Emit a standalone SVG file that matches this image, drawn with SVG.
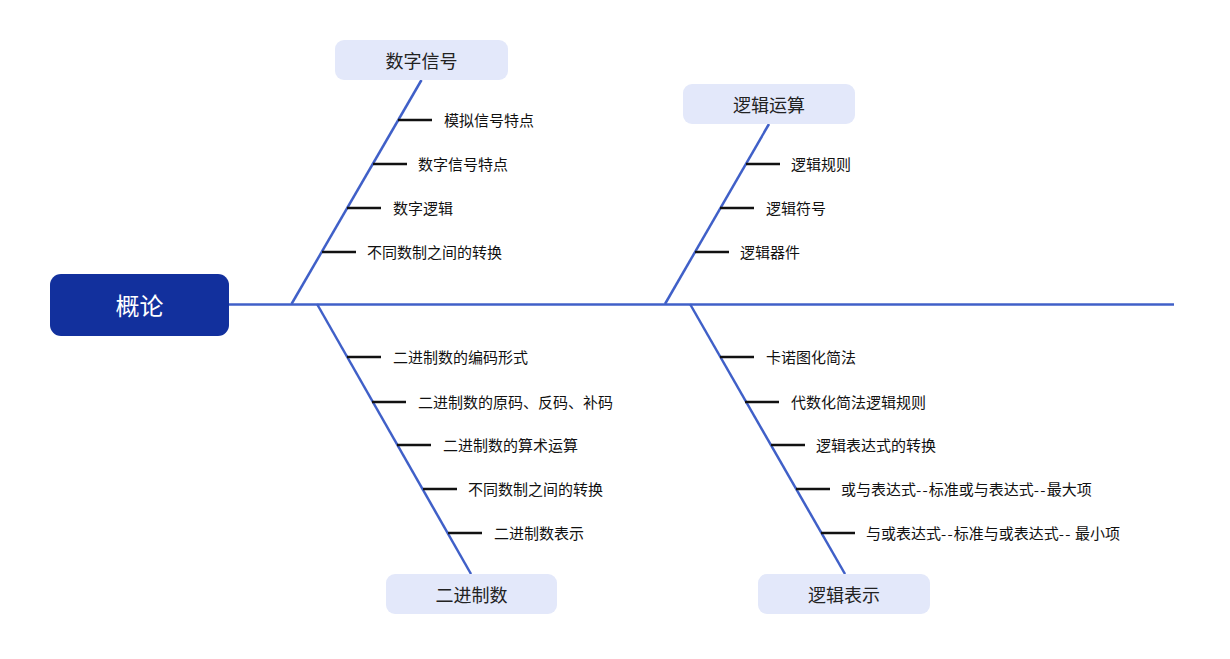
<svg xmlns="http://www.w3.org/2000/svg" width="1230" height="659" viewBox="0 0 1230 659">
<style>
text{font-family:"Noto Sans CJK SC","Noto Sans",sans-serif;}
.bone{stroke:#4060c8;stroke-width:2.5;fill:none;}
.sub{stroke:#111;stroke-width:2.5;fill:none;}
.cat{fill:#e3e8fa;}
.ct{font-size:18px;fill:#222;text-anchor:middle;dominant-baseline:central;}
.st{font-size:15px;fill:#111;dominant-baseline:central;}
.rt{font-size:24px;fill:#fff;text-anchor:middle;dominant-baseline:central;}
.hy{letter-spacing:1.2px;}
</style>
<rect width="1230" height="659" fill="#fff"/>
<g id="connectors">
<line class="bone" x1="229" y1="304.5" x2="1174" y2="304.5"/>
<line class="bone" x1="291.5" y1="304" x2="421.5" y2="80"/>
<line class="bone" x1="665" y1="304" x2="769" y2="124"/>
<line class="bone" x1="317" y1="304" x2="471" y2="574"/>
<line class="bone" x1="690" y1="304" x2="845" y2="574"/>
<line class="sub" x1="398" y1="120" x2="432" y2="120"/>
<line class="sub" x1="373" y1="164" x2="407" y2="164"/>
<line class="sub" x1="347" y1="208" x2="381" y2="208"/>
<line class="sub" x1="322" y1="252" x2="356" y2="252"/>
<line class="sub" x1="746" y1="164" x2="780" y2="164"/>
<line class="sub" x1="720" y1="208" x2="754" y2="208"/>
<line class="sub" x1="695" y1="252" x2="729" y2="252"/>
<line class="sub" x1="347" y1="357" x2="381" y2="357"/>
<line class="sub" x1="372" y1="402" x2="406" y2="402"/>
<line class="sub" x1="397" y1="445" x2="431" y2="445"/>
<line class="sub" x1="423" y1="489" x2="457" y2="489"/>
<line class="sub" x1="448" y1="533" x2="482" y2="533"/>
<line class="sub" x1="720" y1="357" x2="754" y2="357"/>
<line class="sub" x1="745" y1="402" x2="779" y2="402"/>
<line class="sub" x1="771" y1="445" x2="805" y2="445"/>
<line class="sub" x1="796" y1="489" x2="830" y2="489"/>
<line class="sub" x1="821" y1="533" x2="855" y2="533"/>
</g>
<g id="root">
<rect x="50" y="274" width="179" height="62" rx="11" fill="#12309d"/>
<text class="rt" x="139.5" y="304.5">概论</text>
</g>
<g id="cat1">
<rect class="cat" x="335" y="40" width="173" height="40" rx="9"/>
<text class="ct" x="421.5" y="59.5">数字信号</text>
</g>
<g id="cat2">
<rect class="cat" x="683" y="84" width="172" height="40" rx="9"/>
<text class="ct" x="769" y="103.5">逻辑运算</text>
</g>
<g id="cat3">
<rect class="cat" x="386" y="574" width="171" height="40" rx="9"/>
<text class="ct" x="471.5" y="593.5">二进制数</text>
</g>
<g id="cat4">
<rect class="cat" x="758" y="574" width="172" height="40" rx="9"/>
<text class="ct" x="844" y="593.5">逻辑表示</text>
</g>
<g id="items1">
<text class="st" x="444" y="119.5">模拟信号特点</text>
<text class="st" x="418" y="163.5">数字信号特点</text>
<text class="st" x="393" y="207.5">数字逻辑</text>
<text class="st" x="367" y="251.5">不同数制之间的转换</text>
</g>
<g id="items2">
<text class="st" x="791" y="163.5">逻辑规则</text>
<text class="st" x="766" y="207.5">逻辑符号</text>
<text class="st" x="740" y="251.5">逻辑器件</text>
</g>
<g id="items3">
<text class="st" x="393" y="356.5">二进制数的编码形式</text>
<text class="st" x="418" y="401.5">二进制数的原码、反码、补码</text>
<text class="st" x="443" y="444.5">二进制数的算术运算</text>
<text class="st" x="468" y="488.5">不同数制之间的转换</text>
<text class="st" x="494" y="532.5">二进制数表示</text>
</g>
<g id="items4">
<text class="st" x="766" y="356.5">卡诺图化简法</text>
<text class="st" x="791" y="401.5">代数化简法逻辑规则</text>
<text class="st" x="816" y="444.5">逻辑表达式的转换</text>
<text class="st" x="841" y="488.5">或与表达式<tspan class="hy">--</tspan>标准或与表达式<tspan class="hy">--</tspan>最大项</text>
<text class="st" x="866" y="532.5">与或表达式<tspan class="hy">--</tspan>标准与或表达式<tspan class="hy">--</tspan> 最小项</text>
</g>
</svg>
